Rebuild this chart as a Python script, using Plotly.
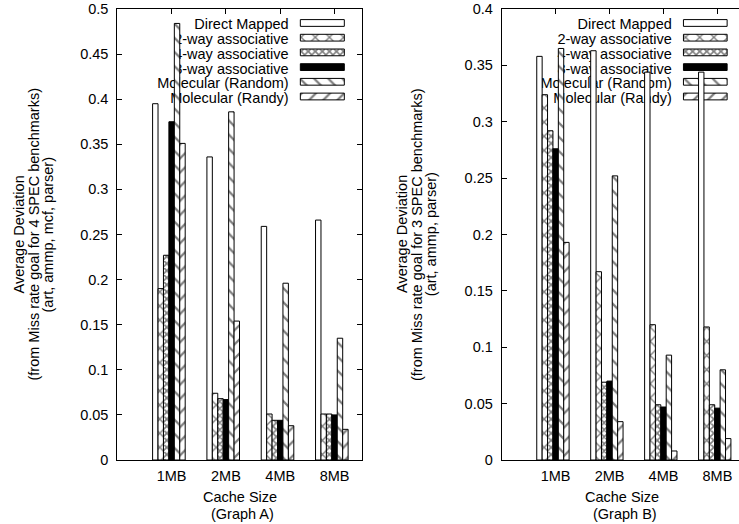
import plotly.graph_objects as go

# ---------------- data ----------------
cache_sizes = ["1MB", "2MB", "4MB", "8MB"]
series_names = ["Direct Mapped", "2-way associative", "4-way associative",
                "8-way associative", "Molecular (Random)", "Molecular (Randy)"]

# Graph A (4 SPEC benchmarks)
direct_a = [0.395, 0.336, 0.259, 0.266]
way2_a = [0.190, 0.074, 0.051, 0.051]
way4_a = [0.227, 0.068, 0.044, 0.051]
way8_a = [0.375, 0.067, 0.044, 0.050]
random_a = [0.484, 0.386, 0.196, 0.135]
randy_a = [0.351, 0.154, 0.038, 0.034]

# Graph B (3 SPEC benchmarks)
direct_b = [0.358, 0.363, 0.344, 0.344]
way2_b = [0.324, 0.167, 0.120, 0.118]
way4_b = [0.292, 0.069, 0.049, 0.049]
way8_b = [0.276, 0.070, 0.047, 0.046]
random_b = [0.365, 0.252, 0.093, 0.080]
randy_b = [0.193, 0.034, 0.008, 0.019]

yticks_a = [0, 0.05, 0.1, 0.15, 0.2, 0.25, 0.3, 0.35, 0.4, 0.45, 0.5]
yticktext_a = ["0", "0.05", "0.1", "0.15", "0.2", "0.25", "0.3", "0.35", "0.4", "0.45", "0.5"]
yticks_b = [0, 0.05, 0.1, 0.15, 0.2, 0.25, 0.3, 0.35, 0.4]
yticktext_b = ["0", "0.05", "0.1", "0.15", "0.2", "0.25", "0.3", "0.35", "0.4"]

ytitle_a = ["Average Deviation", "(from Miss rate goal for 4 SPEC benchmarks)", "(art, ammp, mcf, parser)"]
ytitle_b = ["Average Deviation", "(from Miss rate goal for 3 SPEC benchmarks)", "(art, ammp, parser)"]
xtitle_a = ["Cache Size", "(Graph A)"]
xtitle_b = ["Cache Size", "(Graph B)"]

# ---------------- styles ----------------
W, H = 739, 524
FONT = "Liberation Sans"
FS = 14.5

styles = [
    dict(color="white", pattern=None),
    dict(color="white", pattern=dict(shape="x", size=10, solidity=0.25, fgcolor="black", bgcolor="white")),
    dict(color="white", pattern=dict(shape="x", size=5, solidity=0.55, fgcolor="black", bgcolor="white")),
    dict(color="black", pattern=None),
    dict(color="white", pattern=dict(shape="\\", size=10, solidity=0.22, fgcolor="black", bgcolor="white")),
    dict(color="white", pattern=dict(shape="/", size=10, solidity=0.22, fgcolor="black", bgcolor="white")),
]

BAR_W = 0.1
GROUP_START = -0.35
LEG_TEXT_RIGHT = 3.21
LEG_X0, LEG_X1 = 3.37, 4.18
LEG_ROW0, LEG_ROW_STEP, LEG_ROW_H = 0.031, 0.0326, 0.015

plot_top_px, plot_bot_px = 9, 460
ydom = [1 - plot_bot_px / H, 1 - plot_top_px / H]

panels = [
    dict(xa="x", ya="y", ymax=0.5,
         vals=[direct_a, way2_a, way4_a, way8_a, random_a, randy_a]),
    dict(xa="x2", ya="y2", ymax=0.4,
         vals=[direct_b, way2_b, way4_b, way8_b, random_b, randy_b]),
]

fig = go.Figure()

def marker_for(st):
    m = dict(color=st["color"], line=dict(color="black", width=1))
    if st["pattern"]:
        m["pattern"] = st["pattern"]
    return m

xpos = [i + 1 for i in range(len(cache_sizes))]

for p in panels:
    ymax = p["ymax"]
    # legend swatches (drawn first so that the data bars cover them)
    for k, name in enumerate(series_names):
        yc = ymax * (1 - (LEG_ROW0 + LEG_ROW_STEP * k))
        fig.add_trace(go.Bar(
            orientation="h", y=[yc], x=[LEG_X1 - LEG_X0], base=[LEG_X0],
            width=[ymax * LEG_ROW_H], marker=marker_for(styles[k]),
            xaxis=p["xa"], yaxis=p["ya"], showlegend=False, hoverinfo="skip"))
        # legend text, under the bars
        fig.add_shape(type="rect", xref=p["xa"], yref=p["ya"],
                      x0=0.2, x1=LEG_TEXT_RIGHT,
                      y0=yc - ymax * 0.015, y1=yc + ymax * 0.015,
                      line=dict(width=0, color="rgba(0,0,0,0)"),
                      fillcolor="rgba(0,0,0,0)", layer="below",
                      label=dict(text=name, textposition="middle right", padding=0,
                                 font=dict(family=FONT, size=FS, color="black")))
    for k, name in enumerate(series_names):
        fig.add_trace(go.Bar(
            x=xpos, y=p["vals"][k], width=BAR_W, offset=GROUP_START + k * BAR_W,
            name=name, marker=marker_for(styles[k]),
            xaxis=p["xa"], yaxis=p["ya"], showlegend=False))

axis_common = dict(showline=True, linecolor="black", linewidth=1, ticks="inside",
                   ticklen=5, tickcolor="black", showgrid=False, zeroline=False,
                   automargin=False,
                   tickfont=dict(family=FONT, size=FS, color="black"))

fig.update_layout(
    width=W, height=H, margin=dict(l=0, r=0, t=0, b=0, autoexpand=False),
    paper_bgcolor="white", plot_bgcolor="white", barmode="overlay",
    showlegend=False, font=dict(family=FONT, size=FS, color="black"),
    xaxis=dict(domain=[117.3 / W, 361.7 / W], range=[0, 4.5], anchor="y",
               tickvals=xpos, ticktext=cache_sizes, mirror="allticks",
               ticklabelstandoff=3, **axis_common),
    yaxis=dict(domain=ydom, range=[0, 0.5], anchor="x",
               tickvals=yticks_a, ticktext=yticktext_a, mirror="allticks",
               ticklabelstandoff=5, **axis_common),
    xaxis2=dict(domain=[501.7 / W, 1.0], range=[0, 4.4], anchor="y2",
                tickvals=xpos, ticktext=cache_sizes, mirror="allticks",
                ticklabelstandoff=3, **axis_common),
    yaxis2=dict(domain=ydom, range=[0, 0.4], anchor="x2",
                tickvals=yticks_b, ticktext=yticktext_b, mirror=False,
                ticklabelstandoff=5, **axis_common),
)

ann = []
yc_paper = 1 - ((plot_top_px + plot_bot_px) / 2) / H
for xs, lines in (([19, 34, 48], ytitle_a), ([402.5, 417.5, 431.7], ytitle_b)):
    for xp, t in zip(xs, lines):
        ann.append(dict(text=t, x=xp / W, y=yc_paper, xref="paper", yref="paper",
                        textangle=-90, xanchor="center", yanchor="middle",
                        showarrow=False, font=dict(family=FONT, size=FS, color="black")))
for xc, lines in ((239.5, xtitle_a), (622, xtitle_b)):
    for (yp, xs), t in zip(((497.3, 0), (514, 3)), lines):
        ann.append(dict(text=t, x=xc / W, y=1 - yp / H, xref="paper", yref="paper",
                        xanchor="center", yanchor="middle", xshift=xs,
                        showarrow=False, font=dict(family=FONT, size=FS, color="black")))
fig.update_layout(annotations=ann)

fig.write_html("out.html", config={"displayModeBar": False},
               post_script="document.body.style.margin='0';document.body.style.overflow='hidden';")
